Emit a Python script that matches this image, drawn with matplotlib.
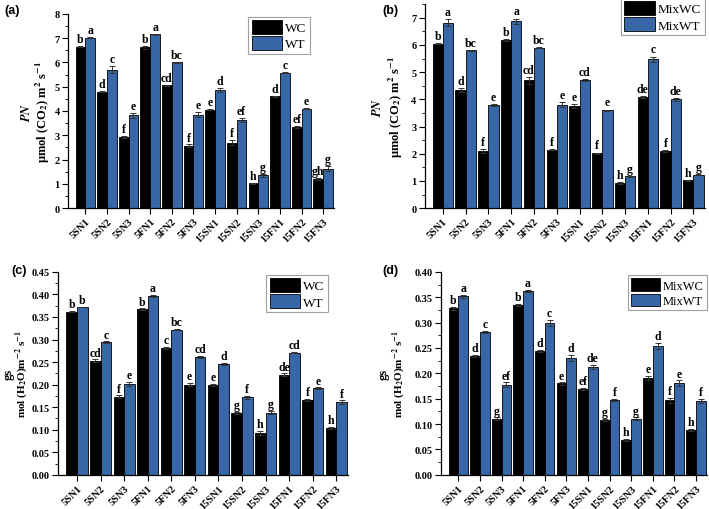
import matplotlib
matplotlib.use("Agg")
import matplotlib.pyplot as plt
import numpy as np
from matplotlib.ticker import MultipleLocator, FormatStrFormatter

plt.rcParams['font.family'] = ['Liberation Serif', 'DejaVu Serif']
plt.rcParams['font.weight'] = 'bold'
plt.rcParams['mathtext.fontset'] = 'stix'
plt.rcParams['mathtext.default'] = 'bf'

categories = ["5SN1", "5SN2", "5SN3", "5FN1", "5FN2", "5FN3",
              "15SN1", "15SN2", "15SN3", "15FN1", "15FN2", "15FN3"]

# (a) PN, monocrop
a_wc = [6.65, 4.80, 2.93, 6.62, 5.05, 2.57, 4.05, 2.70, 1.03, 4.60, 3.33, 1.20]
a_wt = [7.02, 5.70, 3.83, 7.15, 6.00, 3.85, 4.88, 3.62, 1.35, 5.58, 4.10, 1.62]
a_wc_err = [0.03, 0.02, 0.03, 0.05, 0.02, 0.05, 0.03, 0.12, 0.02, 0.03, 0.05, 0.04]
a_wt_err = [0.02, 0.15, 0.10, 0.03, 0.02, 0.10, 0.08, 0.08, 0.06, 0.03, 0.02, 0.10]
a_wc_lab = ["b", "d", "f", "b", "cd", "f", "e", "f", "h", "d", "ef", "gh"]
a_wt_lab = ["a", "c", "e", "a", "bc", "e", "d", "ef", "g", "c", "e", "g"]

# (b) PN, mixed
b_wc = [6.05, 4.35, 2.10, 6.17, 4.70, 2.15, 3.75, 2.02, 0.93, 4.08, 2.10, 1.02]
b_wt = [6.82, 5.80, 3.78, 6.87, 5.90, 3.80, 4.70, 3.60, 1.17, 5.47, 4.00, 1.23]
b_wc_err = [0.02, 0.07, 0.08, 0.03, 0.12, 0.03, 0.07, 0.02, 0.03, 0.03, 0.02, 0.02]
b_wt_err = [0.13, 0.02, 0.04, 0.10, 0.02, 0.10, 0.04, 0.02, 0.02, 0.10, 0.05, 0.02]
b_wc_lab = ["b", "d", "f", "b", "cd", "f", "e", "f", "h", "de", "f", "h"]
b_wt_lab = ["a", "bc", "e", "a", "bc", "e", "cd", "e", "g", "c", "de", "g"]

# (c) gs, monocrop
c_wc = [0.362, 0.253, 0.173, 0.367, 0.282, 0.200, 0.200, 0.137, 0.093, 0.222, 0.166, 0.104]
c_wt = [0.372, 0.294, 0.202, 0.397, 0.322, 0.262, 0.246, 0.172, 0.138, 0.271, 0.192, 0.161]
c_wc_err = [0.002, 0.003, 0.003, 0.002, 0.002, 0.003, 0.002, 0.003, 0.004, 0.003, 0.002, 0.002]
c_wt_err = [0.001, 0.002, 0.004, 0.002, 0.002, 0.002, 0.002, 0.003, 0.003, 0.002, 0.002, 0.004]
c_wc_lab = ["b", "cd", "f", "b", "c", "e", "e", "g", "h", "de", "f", "h"]
c_wt_lab = ["b", "c", "e", "a", "bc", "cd", "d", "f", "g", "cd", "e", "f"]

# (d) gs, mixed
d_wc = [0.328, 0.234, 0.111, 0.334, 0.244, 0.180, 0.169, 0.109, 0.068, 0.191, 0.147, 0.089]
d_wt = [0.352, 0.281, 0.178, 0.363, 0.299, 0.231, 0.213, 0.147, 0.111, 0.253, 0.181, 0.145]
d_wc_err = [0.003, 0.002, 0.002, 0.002, 0.002, 0.002, 0.002, 0.002, 0.002, 0.004, 0.005, 0.002]
d_wt_err = [0.003, 0.002, 0.004, 0.002, 0.006, 0.006, 0.004, 0.002, 0.002, 0.006, 0.005, 0.004]
d_wc_lab = ["b", "d", "g", "b", "d", "e", "ef", "g", "h", "e", "f", "h"]
d_wt_lab = ["a", "c", "ef", "a", "c", "d", "de", "f", "g", "d", "e", "f"]

BLUE = "#3767A6"
fig = plt.figure(figsize=(7.09, 5.10), dpi=100)

panels = [
    dict(rect=[0.096, 0.590, 0.375, 0.381], wc=a_wc, wt=a_wt, wce=a_wc_err, wte=a_wt_err,
         wcl=a_wc_lab, wtl=a_wt_lab, ylim=(0, 8), major=1, minor=0.5, fmt="%d",
         names=("WC", "WT"), leg=(0.91, 0.985), l1x=-0.155, l2x=-0.094, l2size=9,
         line1="$\\mathbfit{PN}$", line2="μmol (CO$_2$) m$^2$ s$^{-1}$",
         tag="(a)", tagxy=(0.006, 0.978), off=0.12, legsize=9.5),
    dict(rect=[0.599, 0.590, 0.395, 0.400], wc=b_wc, wt=b_wt, wce=b_wc_err, wte=b_wt_err,
         wcl=b_wc_lab, wtl=b_wt_lab, ylim=(0, 7.5), major=1, minor=0.5, fmt="%d",
         names=("MixWC", "MixWT"), leg=(1.0, 1.03), l1x=-0.168, l2x=-0.104, l2size=9,
         line1="$\\mathbfit{PN}$", line2="μmol (CO$_2$) m$^2$ s$^{-1}$",
         tag="(b)", tagxy=(0.540, 0.978), off=0.15, legsize=9.5),
    dict(rect=[0.082, 0.067, 0.409, 0.398], wc=c_wc, wt=c_wt, wce=c_wc_err, wte=c_wt_err,
         wcl=c_wc_lab, wtl=c_wt_lab, ylim=(0, 0.45), major=0.05, minor=0.025, fmt="%.2f",
         names=("WC", "WT"), leg=(0.93, 0.985), l1x=-0.17, l2x=-0.125, l2size=8,
         line1="gs", line2="mol (H$_2$O)m$^{-2}$ s$^{-1}$",
         tag="(c)", tagxy=(0.016, 0.468), off=0.006, legsize=9.5),
    dict(rect=[0.622, 0.067, 0.375, 0.398], wc=d_wc, wt=d_wt, wce=d_wc_err, wte=d_wt_err,
         wcl=d_wc_lab, wtl=d_wt_lab, ylim=(0, 0.40), major=0.05, minor=0.025, fmt="%.2f",
         names=("MixWC", "MixWT"), leg=(1.0, 0.985), l1x=-0.215, l2x=-0.16, l2size=8,
         line1="gs", line2="mol (H$_2$O)m$^{-2}$ s$^{-1}$",
         tag="(d)", tagxy=(0.540, 0.468), off=0.006, legsize=9),
]

x = np.arange(len(categories))
w = 0.45
for p in panels:
    ax = fig.add_axes(p["rect"])
    ax.bar(x - w / 2, p["wc"], w, color="black", edgecolor="black", linewidth=0.6,
           yerr=p["wce"], capsize=2, error_kw=dict(elinewidth=0.7, capthick=0.7, ecolor="#333333"),
           label=p["names"][0])
    ax.bar(x + w / 2, p["wt"], w, color=BLUE, edgecolor="black", linewidth=0.6,
           yerr=p["wte"], capsize=2, error_kw=dict(elinewidth=0.7, capthick=0.7, ecolor="#333333"),
           label=p["names"][1])
    for i in range(len(categories)):
        ax.text(x[i] - w / 2, p["wc"][i] + p["wce"][i] + p["off"] * 0.3, p["wcl"][i],
                ha="center", va="bottom", fontsize=8.5, fontweight="bold")
        ax.text(x[i] + w / 2, p["wt"][i] + p["wte"][i] + p["off"] * 0.3, p["wtl"][i],
                ha="center", va="bottom", fontsize=8.5, fontweight="bold")
    ax.set_xlim(-0.8, 11.5)
    ax.set_ylim(*p["ylim"])
    ax.yaxis.set_major_locator(MultipleLocator(p["major"]))
    ax.yaxis.set_minor_locator(MultipleLocator(p["minor"]))
    ax.yaxis.set_major_formatter(FormatStrFormatter(p["fmt"]))
    ax.set_xticks(x)
    ax.set_xticklabels(categories, rotation=45, ha="right", rotation_mode="anchor", fontsize=7.5)
    ax.tick_params(axis="y", labelsize=7.5, direction="out", length=4, width=0.8, pad=2)
    ax.tick_params(axis="y", which="minor", length=2, width=0.6)
    ax.tick_params(axis="x", direction="out", length=4, width=0.8, pad=2)
    for s in ["top", "right"]:
        ax.spines[s].set_visible(False)
    for s in ["left", "bottom"]:
        ax.spines[s].set_linewidth(0.9)
    ax.text(p["l1x"], 0.5, p["line1"], transform=ax.transAxes,
            rotation=90, ha="center", va="center", fontsize=9, fontweight="bold")
    ax.text(p["l2x"], 0.5, p["line2"], transform=ax.transAxes,
            rotation=90, ha="center", va="center", fontsize=p["l2size"], fontweight="bold")
    leg = ax.legend(loc="upper right", bbox_to_anchor=p["leg"], frameon=True,
                    fancybox=False, edgecolor="#888888", handlelength=2.3, handleheight=1.2,
                    handletextpad=0.25, borderpad=0.25, labelspacing=0.15, borderaxespad=0,
                    prop=dict(family="Liberation Serif", weight="normal", size=p["legsize"]))
    leg.get_frame().set_linewidth(0.8)
    fig.text(p["tagxy"][0], p["tagxy"][1], p["tag"], fontsize=9, fontweight="bold",
             family="Liberation Sans", ha="left", va="center")

fig.savefig("out.png", dpi=100)
